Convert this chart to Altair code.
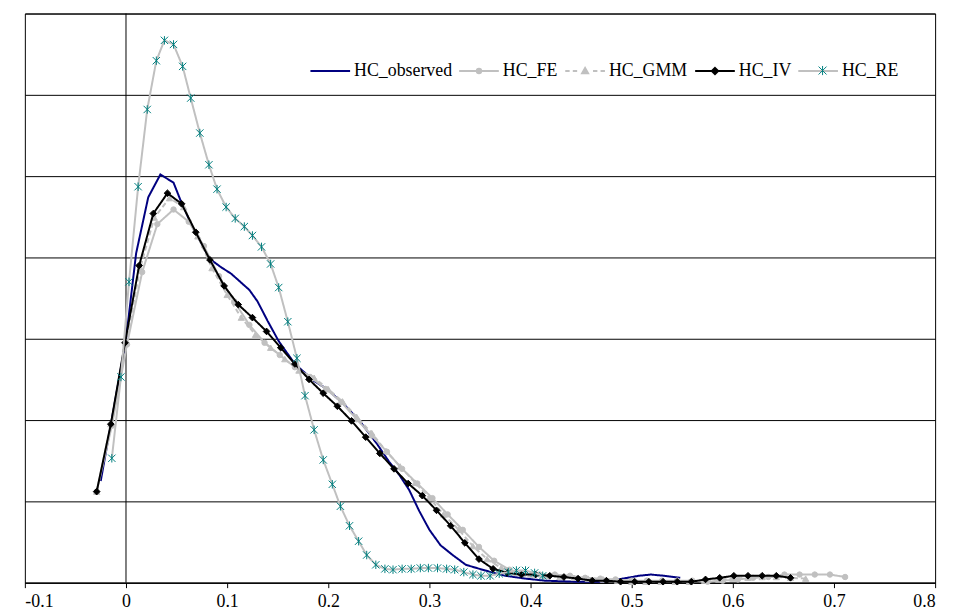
import altair as alt
import pandas as pd

# ---------------- data ----------------
series_names = ["HC_observed", "HC_FE", "HC_GMM", "HC_IV", "HC_RE"]

obs_x = [-0.025, -0.014, 0.000, 0.010, 0.022, 0.034, 0.047, 0.054, 0.066, 0.083,
         0.094, 0.104, 0.113, 0.122, 0.130, 0.140, 0.151, 0.167, 0.186, 0.199,
         0.215, 0.231, 0.248, 0.260, 0.270, 0.280, 0.290, 0.300, 0.311, 0.323,
         0.336, 0.355, 0.375, 0.395, 0.414, 0.444, 0.473, 0.496, 0.507, 0.519,
         0.532, 0.548]
obs_y = [1.25, 2.01, 2.99, 4.05, 4.74, 5.02, 4.92, 4.70, 4.37, 3.98,
         3.88, 3.80, 3.70, 3.60, 3.46, 3.22, 2.97, 2.69, 2.48, 2.38,
         2.20, 1.99, 1.71, 1.49, 1.33, 1.14, 0.88, 0.65, 0.46, 0.34,
         0.22, 0.15, 0.085, 0.05, 0.025, 0.012, 0.012, 0.06, 0.085, 0.10,
         0.085, 0.06]

fe_x = [-0.029, -0.014, 0.001, 0.016, 0.031, 0.047, 0.062, 0.077, 0.092, 0.107,
        0.122, 0.137, 0.152, 0.167, 0.182, 0.198, 0.213, 0.228, 0.243, 0.258,
        0.273, 0.288, 0.303, 0.318, 0.333, 0.349, 0.364, 0.379, 0.394, 0.409,
        0.424, 0.439, 0.454, 0.469, 0.484, 0.500, 0.515, 0.530, 0.545, 0.560,
        0.575, 0.590, 0.605, 0.620, 0.635, 0.651, 0.666, 0.681, 0.696, 0.711]
fe_y = [1.12, 1.93, 2.93, 3.82, 4.41, 4.59, 4.44, 4.14, 3.77, 3.46,
        3.17, 2.95, 2.80, 2.65, 2.53, 2.38, 2.22, 2.01, 1.81, 1.61,
        1.40, 1.22, 1.04, 0.84, 0.65, 0.44, 0.27, 0.16, 0.11, 0.10,
        0.10, 0.085, 0.06, 0.05, 0.04, 0.025, 0.025, 0.025, 0.025, 0.025,
        0.012, 0.025, 0.04, 0.06, 0.07, 0.10, 0.10, 0.10, 0.10, 0.07]

gmm_x = [-0.029, -0.015, 0.000, 0.014, 0.028, 0.043, 0.057, 0.071, 0.085, 0.100,
         0.114, 0.128, 0.143, 0.157, 0.171, 0.186, 0.200, 0.214, 0.228, 0.243,
         0.257, 0.271, 0.286, 0.300, 0.314, 0.329, 0.343, 0.357, 0.371, 0.386,
         0.400, 0.414, 0.429, 0.443, 0.457, 0.472, 0.486, 0.500, 0.514, 0.529,
         0.543, 0.557, 0.572, 0.586, 0.600, 0.615, 0.629, 0.643, 0.657, 0.672]
gmm_y = [1.12, 1.95, 2.95, 3.87, 4.49, 4.73, 4.62, 4.26, 3.87, 3.54,
         3.26, 3.05, 2.89, 2.75, 2.61, 2.52, 2.38, 2.23, 2.04, 1.84,
         1.62, 1.43, 1.23, 1.04, 0.84, 0.65, 0.45, 0.29, 0.18, 0.12,
         0.10, 0.085, 0.07, 0.06, 0.05, 0.04, 0.025, 0.012, 0.012, 0.012,
         0.012, 0.012, 0.025, 0.04, 0.05, 0.06, 0.07, 0.07, 0.06, 0.05]

iv_x = [-0.029, -0.015, -0.001, 0.013, 0.027, 0.041, 0.055, 0.069, 0.083, 0.097,
        0.111, 0.125, 0.139, 0.153, 0.167, 0.181, 0.195, 0.209, 0.223, 0.237,
        0.251, 0.265, 0.279, 0.293, 0.307, 0.321, 0.335, 0.349, 0.363, 0.377,
        0.391, 0.405, 0.419, 0.433, 0.447, 0.461, 0.475, 0.489, 0.503, 0.517,
        0.531, 0.545, 0.559, 0.573, 0.587, 0.601, 0.615, 0.629, 0.643, 0.657]
iv_y = [1.12, 1.95, 2.95, 3.90, 4.54, 4.79, 4.66, 4.31, 3.97, 3.65,
        3.42, 3.26, 3.09, 2.89, 2.69, 2.50, 2.33, 2.17, 1.99, 1.79,
        1.59, 1.40, 1.22, 1.07, 0.89, 0.70, 0.49, 0.29, 0.17, 0.12,
        0.10, 0.10, 0.085, 0.07, 0.05, 0.025, 0.025, 0.012, 0.012, 0.012,
        0.012, 0.012, 0.012, 0.04, 0.06, 0.085, 0.085, 0.085, 0.085, 0.06]

re_x = [-0.014, -0.005, 0.003, 0.012, 0.021, 0.030, 0.038, 0.047, 0.056, 0.064,
        0.073, 0.082, 0.090, 0.099, 0.108, 0.117, 0.125, 0.134, 0.143, 0.151,
        0.160, 0.169, 0.177, 0.186, 0.195, 0.204, 0.212, 0.221, 0.230, 0.238,
        0.247, 0.256, 0.264, 0.273, 0.282, 0.291, 0.299, 0.308, 0.317, 0.325,
        0.334, 0.343, 0.351, 0.360, 0.369, 0.378, 0.386, 0.395, 0.404, 0.412]
re_y = [1.53, 2.53, 3.70, 4.87, 5.82, 6.42, 6.67, 6.62, 6.35, 5.96,
        5.53, 5.14, 4.84, 4.62, 4.48, 4.38, 4.27, 4.13, 3.92, 3.63,
        3.21, 2.76, 2.30, 1.88, 1.51, 1.21, 0.94, 0.70, 0.51, 0.34,
        0.22, 0.17, 0.16, 0.17, 0.17, 0.18, 0.18, 0.18, 0.17, 0.16,
        0.13, 0.10, 0.085, 0.085, 0.11, 0.13, 0.15, 0.15, 0.12, 0.085]

x_ticks = [-0.1, 0.0, 0.1, 0.2, 0.3, 0.4, 0.5, 0.6, 0.7, 0.8]
y_grid = [0, 1, 2, 3, 4, 5, 6, 7]

# ---------------- build table ----------------
rows = []
for name, xs, ys in [("HC_observed", obs_x, obs_y), ("HC_FE", fe_x, fe_y),
                     ("HC_GMM", gmm_x, gmm_y), ("HC_IV", iv_x, iv_y),
                     ("HC_RE", re_x, re_y)]:
    for xv, yv in zip(xs, ys):
        rows.append({"series": name, "x": xv, "y": yv})
df = pd.DataFrame(rows)

# ---------------- styles ----------------
FONT = "Times New Roman, Liberation Serif, DejaVu Serif, serif"
line_colors = ["#000080", "#C0C0C0", "#C0C0C0", "#000000", "#C0C0C0"]
line_dash = [[1, 0], [1, 0], [5, 3], [1, 0], [1, 0]]

STAR = "M-1,-1L1,1M-1,1L1,-1M0,-1.15L0,1.15"
marker_style = {
    "HC_FE": dict(shape="circle", color="#C0C0C0", size=30, filled=True),
    "HC_GMM": dict(shape="triangle-up", color="#C0C0C0", size=40, filled=True),
    "HC_IV": dict(shape="diamond", color="#000000", size=45, filled=True),
    "HC_RE": dict(shape=STAR, color="#008080", size=55, filled=False),
}

xscale = alt.Scale(domain=[-0.1, 0.8], nice=False, zero=False)
yscale = alt.Scale(domain=[0, 7], nice=False, zero=False)
xaxis = alt.Axis(values=x_ticks, title=None, grid=False, domainColor="black",
                 tickColor="black", tickSize=5, labelFont=FONT, labelFontSize=18,
                 labelColor="black", labelPadding=5,
                 labelExpr="toString(round(datum.value*10)/10)")
yaxis = alt.Axis(values=y_grid, title=None, grid=True, gridColor="black",
                 gridWidth=1, gridOpacity=1, labels=False, ticks=False, domain=False)

# ---- legend (line + marker symbols drawn as one path per entry) ----
LEG_X, LEG_Y = 287, 37
leg_paths = [
    "M-1,0H1",
    "M-1,0H1M0.11,0A0.11,0.11,0,1,1,-0.11,0A0.11,0.11,0,1,1,0.11,0Z",
    "M-1,0H-0.78M-0.62,0H-0.4M0.4,0H0.62M0.78,0H1M0,-0.15L0.15,0.11L-0.15,0.11Z",
    "M-1,0H1M0,-0.16L0.16,0L0,0.16L-0.16,0Z",
    "M-1,0H1",
]
leg_fill = ["transparent", "#C0C0C0", "#C0C0C0", "#000000", "transparent"]
leg_stroke = ["#000080", "#C0C0C0", "#C0C0C0", "#000000", "#C0C0C0"]
legA = alt.Legend(title=None, orient="none", legendX=LEG_X, legendY=LEG_Y,
                  direction="horizontal", columns=5, symbolSize=1600,
                  symbolStrokeWidth=2, labelFont=FONT, labelFontSize=18,
                  labelColor="black", labelOffset=3, columnPadding=3, padding=0)

# teal star of the HC_RE legend entry (drawn over its grey line)
star_key = ["HC_RE_star"]
legStar = alt.Legend(title=None, orient="none", legendX=800, legendY=53,
                     symbolSize=64, symbolStrokeWidth=1, labelFontSize=1,
                     labelExpr="''", padding=0, labelOffset=0)

base = alt.Chart(df)
layers = []

# vertical axis line at x = 0
layers.append(
    alt.Chart(pd.DataFrame({"x": [0.0]})).mark_rule(color="black", strokeWidth=1)
    .encode(x=alt.X("x:Q", scale=xscale, axis=xaxis))
)

for name in series_names:
    layers.append(
        base.transform_filter(alt.datum.series == name)
        .mark_line(strokeWidth=2)
        .encode(
            x=alt.X("x:Q", scale=xscale, axis=xaxis),
            y=alt.Y("y:Q", scale=yscale, axis=yaxis),
            color=alt.Color("series:N", scale=alt.Scale(domain=series_names, range=line_colors), legend=None),
            strokeDash=alt.StrokeDash("series:N", scale=alt.Scale(domain=series_names, range=line_dash), legend=None),
            order="x:Q",
        )
    )
    if name in marker_style:
        st = marker_style[name]
        mk = dict(shape=st["shape"], stroke=st["color"], strokeWidth=1,
                  size=st["size"], opacity=1, filled=st["filled"])
        if st["filled"]:
            mk["fill"] = st["color"]
        layers.append(
            base.transform_filter(alt.datum.series == name)
            .mark_point(**mk)
            .encode(
                x=alt.X("x:Q", scale=xscale, axis=xaxis),
                y=alt.Y("y:Q", scale=yscale, axis=yaxis),
            )
        )

# legend-only layers (no marks drawn)
layers.append(
    alt.Chart(pd.DataFrame({"series": series_names}))
    .transform_filter("false")
    .mark_point(filled=True, opacity=1)
    .encode(
        shape=alt.Shape("series:N", scale=alt.Scale(domain=series_names, range=leg_paths), legend=legA),
        fill=alt.Fill("series:N", scale=alt.Scale(domain=series_names, range=leg_fill), legend=legA),
        stroke=alt.Stroke("series:N", scale=alt.Scale(domain=series_names, range=leg_stroke), legend=legA),
    )
)
layers.append(
    alt.Chart(pd.DataFrame({"key": star_key}))
    .transform_filter("false")
    .mark_point(filled=False, opacity=1)
    .encode(
        shape=alt.Shape("key:N", scale=alt.Scale(domain=star_key, range=[STAR]), legend=legStar),
        stroke=alt.Stroke("key:N", scale=alt.Scale(domain=star_key, range=["#008080"]), legend=legStar),
    )
)

chart = (
    alt.layer(*layers)
    .resolve_scale(shape="independent", fill="independent", stroke="independent")
    .properties(width=918, height=574,
                autosize=alt.AutoSizeParams(type="none"),
                padding={"left": 17, "top": 3, "right": 14, "bottom": 28},
                background="white")
    .configure_view(stroke="black", strokeWidth=1)
)

chart.save("out.html", embed_options={"renderer": "svg", "actions": False})
